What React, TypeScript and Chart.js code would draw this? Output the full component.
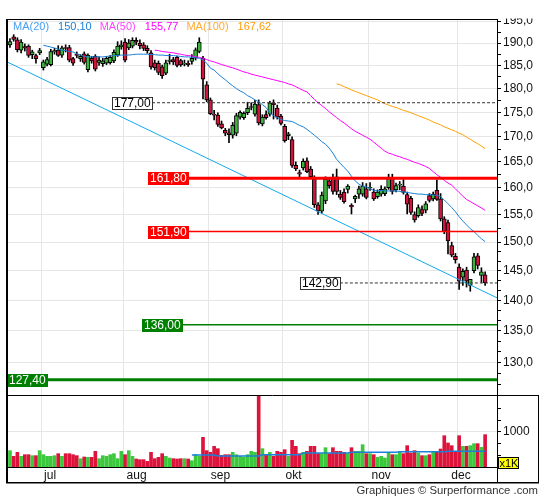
import React, { useEffect, useRef } from 'react';
import { Chart, registerables } from 'chart.js';

Chart.register(...registerables);

// ---------- DATA ----------
const opens = [
  189.6, 191.4, 190.7, 188.4, 189.2, 189.3, 187.4, 187.2, 187.8, 184.5,
  185.3, 185.2, 188.0, 188.4, 187.3, 189.0, 189.0, 186.5, 187.5, 186.5,
  187.6, 184.1, 186.6, 187.0, 185.7, 185.4, 185.5, 185.6, 186.0, 187.3,
  189.1, 190.2, 188.9, 189.3, 190.6, 190.0, 189.6, 188.8, 187.8, 185.6,
  185.5, 184.7, 183.3, 185.9, 186.3, 186.8, 186.1, 185.3, 185.5, 185.9,
  186.6, 188.1, 186.6, 180.8, 177.6, 174.6, 174.4, 172.6, 171.3, 170.8,
  170.3, 170.7, 174.0, 173.9, 174.9, 176.0, 174.6, 176.6, 172.6, 174.5,
  174.6, 176.9, 175.9, 174.2, 172.1, 170.2, 169.4, 164.3, 162.9, 163.8,
  165.2, 163.6, 161.6, 156.8, 155.6, 157.5, 161.3, 161.8, 162.1, 158.8,
  159.2, 159.7, 156.7, 157.9, 158.8, 158.8, 159.8, 159.9, 159.2, 158.3,
  158.8, 158.9, 160.0, 161.9, 159.6, 160.5, 160.3, 158.7, 158.0, 155.0,
  154.8, 155.9, 155.8, 158.5, 157.9, 159.5, 157.9, 154.2, 153.5, 149.4,
  147.5, 145.6, 143.9, 145.1, 142.5, 145.0, 147.6, 144.2, 144.3,
];
const highs = [
  191.0, 191.9, 191.2, 190.8, 189.8, 189.6, 188.4, 187.5, 188.8, 186.2,
  186.8, 188.6, 188.8, 189.4, 189.3, 189.6, 189.5, 186.8, 188.0, 187.4,
  188.0, 187.6, 187.0, 187.4, 186.9, 186.6, 187.0, 187.2, 188.5, 190.3,
  190.5, 191.0, 190.8, 191.2, 191.2, 190.7, 190.1, 189.4, 188.3, 186.2,
  186.0, 185.1, 186.2, 187.5, 186.8, 187.1, 186.4, 186.2, 186.0, 187.4,
  188.9, 191.2, 187.0, 181.5, 178.0, 175.4, 174.9, 173.2, 171.7, 171.6,
  172.9, 174.8, 175.3, 175.1, 177.1, 177.0, 177.5, 177.6, 174.5, 175.3,
  177.3, 177.6, 176.5, 174.6, 172.5, 170.9, 170.0, 165.0, 163.4, 165.6,
  165.8, 164.1, 162.3, 157.2, 159.2, 162.1, 162.0, 162.6, 163.6, 159.5,
  159.8, 160.6, 157.0, 158.6, 160.3, 161.0, 160.8, 161.0, 159.8, 159.6,
  160.4, 160.2, 162.6, 162.6, 160.9, 161.2, 161.6, 159.2, 158.4, 155.5,
  156.8, 156.6, 157.4, 158.9, 159.2, 161.5, 158.9, 154.6, 154.0, 150.0,
  148.0, 146.2, 145.3, 145.6, 143.5, 148.0, 148.0, 145.5, 144.8,
];
const lows = [
  189.0, 190.4, 188.0, 187.8, 188.2, 186.8, 186.5, 185.5, 187.4, 184.0,
  184.9, 184.9, 187.5, 187.0, 186.8, 188.0, 185.8, 185.0, 186.7, 185.9,
  185.3, 183.6, 185.5, 183.8, 185.0, 184.8, 185.2, 185.3, 185.6, 187.0,
  188.6, 185.8, 188.5, 188.9, 189.6, 188.7, 188.3, 187.7, 184.2, 184.0,
  183.0, 182.2, 183.0, 185.3, 185.2, 184.7, 184.8, 184.9, 184.8, 185.3,
  186.2, 187.8, 177.8, 177.2, 174.5, 173.4, 172.1, 171.6, 170.2, 168.8,
  169.7, 170.2, 173.6, 173.5, 174.5, 175.5, 174.2, 172.4, 172.2, 173.6,
  174.2, 173.6, 173.6, 172.4, 168.9, 169.4, 163.9, 163.3, 162.0, 163.4,
  162.9, 161.8, 156.3, 155.0, 155.2, 157.0, 159.9, 158.8, 158.7, 157.8,
  157.1, 159.0, 155.1, 157.2, 158.0, 158.4, 157.9, 159.5, 157.6, 158.0,
  158.4, 158.5, 159.7, 158.8, 159.2, 159.6, 158.8, 155.1, 155.0, 153.6,
  154.5, 154.8, 155.3, 157.3, 157.5, 157.6, 153.8, 151.5, 147.9, 147.4,
  146.3, 141.8, 142.5, 142.2, 141.5, 144.6, 145.3, 143.0, 142.5,
];
const closes = [
  190.3, 190.8, 188.5, 190.2, 188.9, 187.2, 188.0, 186.5, 188.3, 185.8,
  186.3, 188.1, 188.3, 187.2, 188.9, 188.8, 186.2, 185.5, 187.2, 187.0,
  185.7, 187.3, 186.0, 184.2, 186.2, 186.0, 186.6, 186.8, 187.9, 189.3,
  189.6, 186.2, 190.0, 190.6, 190.2, 189.4, 188.8, 188.3, 184.7, 184.5,
  183.5, 182.8, 185.6, 186.2, 185.8, 185.0, 185.1, 185.5, 185.2, 186.6,
  188.5, 190.2, 182.0, 177.6, 174.7, 174.4, 172.5, 171.8, 170.7, 170.4,
  172.3, 174.3, 175.0, 174.8, 175.8, 176.2, 176.7, 172.8, 174.0, 173.9,
  177.0, 176.6, 174.0, 172.7, 169.2, 170.6, 164.3, 163.6, 162.6, 165.1,
  163.1, 162.1, 156.8, 155.6, 158.6, 161.6, 160.4, 159.3, 159.3, 158.2,
  157.4, 160.3, 156.4, 158.4, 159.8, 160.3, 158.2, 160.1, 157.9, 159.2,
  159.7, 159.8, 161.8, 159.3, 160.4, 160.7, 159.1, 156.9, 155.4, 154.0,
  156.3, 155.2, 157.0, 157.6, 158.8, 157.8, 154.2, 151.9, 150.2, 147.7,
  146.9, 143.2, 144.9, 143.2, 143.5, 147.4, 145.9, 144.8, 142.9,
];
// volume in thousands
const volumes = [
  467, 305, 419, 305, 352, 352, 324, 324, 467, 352,
  305, 305, 324, 381, 305, 381, 381, 352, 324, 238,
  286, 276, 276, 448, 238, 324, 305, 352, 381, 238,
  448, 352, 467, 305, 229, 210, 210, 162, 419, 238,
  276, 381, 305, 257, 238, 229, 238, 238, 229, 181,
  352, 305, 848, 467, 419, 590, 524, 333, 352, 352,
  419, 352, 305, 276, 352, 448, 419, 2048, 524, 352,
  419, 305, 448, 419, 495, 305, 762, 590, 381, 419,
  448, 590, 590, 381, 381, 552, 381, 552, 448, 448,
  419, 381, 552, 448, 448, 638, 381, 381, 352, 276,
  305, 257, 400, 352, 352, 419, 381, 610, 400, 467,
  400, 324, 324, 352, 448, 448, 514, 895, 686, 610,
  448, 895, 590, 590, 610, 667, 667, 562, 924,
];
const volMaStart = 49;
const volMa = [
  343, 343, 343, 343, 343, 343, 343,
  314, 314, 314, 314, 314, 314, 314, 314, 314, 314, 314, 314,
  348, 348, 348, 348, 348, 348, 348, 348, 348, 348, 348,
  400, 400, 400, 400, 400, 400, 400, 400, 400, 400, 400, 400, 400,
  419, 419, 419, 419, 419, 419, 419, 419, 419, 419, 419, 419, 419,
  438, 438, 438, 438, 438, 438, 438, 438, 438, 438, 438, 438, 438,
  448, 448, 448, 448, 448, 448, 448, 448, 448, 448, 448,
];
const ma20Start = 9;
const ma20 = [
  189.5, 189.3, 189.1, 188.9, 188.6, 188.4, 188.3, 188.1, 188.0, 187.6,
  187.3, 187.0, 186.9, 186.9, 186.9, 186.9, 186.9, 187.0, 187.1, 187.2,
  187.2, 187.3, 187.3, 187.3, 187.4, 187.5, 187.5, 187.5, 187.5, 187.4,
  187.4, 187.3, 187.3, 187.2, 187.2, 187.2, 187.1, 187.0, 186.9, 186.9,
  186.8, 186.7, 186.6, 186.2, 185.5, 184.4, 184.0, 183.2, 182.5, 181.9,
  181.2, 180.6, 180.0, 179.5, 179.1, 178.5, 178.1, 177.6, 177.2, 176.6,
  176.0, 174.9, 174.3, 173.9, 173.5, 173.3, 173.2, 173.1, 172.7, 172.3,
  172.0, 171.5, 170.9, 170.3, 169.7, 169.0, 168.5, 167.7, 166.7, 165.5,
  164.7, 163.9, 163.2, 162.2, 161.3, 160.7, 160.3, 160.2, 159.8, 159.5,
  159.4, 159.5, 159.4, 159.4, 159.4, 159.4, 159.3, 159.2, 159.1, 159.0,
  158.9, 158.8, 158.8, 158.7, 158.7, 158.6, 158.6, 158.3, 157.7, 157.0,
  156.3, 155.5, 154.6, 153.8, 153.1, 152.4, 151.9, 151.2, 150.6, 150.1,
];
const ma50Start = 39;
const ma50 = [
  188.4, 188.3, 188.1, 188.0, 187.9, 187.8, 187.6, 187.5, 187.3, 187.2,
  187.1, 186.9, 186.8, 186.6, 186.3, 186.0, 185.8, 185.5, 185.2, 185.0,
  184.7, 184.5, 184.2, 183.9, 183.6, 183.4, 183.1, 182.9, 182.7, 182.5,
  182.3, 182.1, 181.9, 181.7, 181.5, 181.3, 181.0, 180.8, 180.4, 180.0,
  179.6, 179.3, 178.5, 177.7, 177.0, 176.4, 175.8, 175.1, 174.5, 173.9,
  173.3, 172.8, 172.2, 171.6, 171.1, 170.7, 170.3, 169.9, 169.5, 168.9,
  168.3, 167.7, 167.1, 166.7, 166.5, 166.2, 166.0, 165.7, 165.5, 165.2,
  164.9, 164.7, 164.4, 164.1, 163.7, 163.1, 162.5, 162.0, 161.4, 160.9,
  160.5, 159.8, 159.1, 158.4, 157.8, 157.4, 157.0, 156.6, 156.2, 155.77,
];
const ma100Start = 88;
const ma100 = [
  181.0, 180.8, 180.4, 180.1, 179.7, 179.4, 179.1, 178.8, 178.5, 178.2,
  177.9, 177.6, 177.2, 176.8, 176.5, 176.2, 176.0, 175.7, 175.4, 175.2,
  174.9, 174.6, 174.3, 174.0, 173.7, 173.4, 173.0, 172.7, 172.4, 172.0,
  171.7, 171.4, 171.1, 170.7, 170.4, 169.9, 169.5, 169.0, 168.6, 168.1,
  167.62,
];
const trendIdx = [-0.8, 131.2];
const trendPrice = [185.8, 140.4];

const levels = [177.0, 161.8, 151.9, 142.9, 136.0, 127.4];
const levelStartIdx = [27.5, 37.2, 37.2, 78.1, 35.6, -0.8];

const monthNames = ['jul', 'aug', 'sep', 'okt', 'nov', 'dec'];
const monthStartIdx = [9, 31, 54, 74, 97, 121];
const monthLabelIdx = [10.8, 34.1, 56.7, 76.4, 100.0, 121.5];

const priceMajorTicks = [130, 135, 140, 145, 150, 155, 160, 165, 170, 175, 180, 185, 190, 195];
const priceMinorTicks = [
  126.67, 128.33, 131.67, 133.33, 136.67, 138.33, 141.67, 143.33, 146.67, 148.33,
  152.5, 157.5, 162.5, 167.5, 172.5, 177.5, 182.5, 187.5, 192.5,
];
const volMajorTicks = [1000];
const volMinorTicks = [333, 667, 1333, 1667];

// ---------- STYLE ----------
const X_MIN = -0.8;
const X_MAX = 131.2;
const P_MIN = 125.1;
const P_MAX = 195.5;
const V_MAX = 2057;
const FONT_FAMILY = "'Liberation Sans', Arial, sans-serif";
const FONT = `11px ${FONT_FAMILY}`;
const AXIS_FONT_SIZE = 12;
const GRID = '#e6e6e6';
const CANDLE_UP = '#3cb43c';
const CANDLE_DOWN = '#d2143c';
const VOL_UP = '#3cc83c';
const VOL_DOWN = '#dc143c';
const MA20_COLOR = '#1a80d8';
const MA50_COLOR = '#ff00ff';
const MA100_COLOR = '#ffa000';
const TREND_COLOR = '#12aaee';

const levelStyles = [
  { line: '#333333', width: 1, dash: [3, 2], fill: '#ffffff', stroke: '#333333', text: '#000000' },
  { line: '#ff0000', width: 3, dash: [], fill: '#ff0000', stroke: null, text: '#ffffff' },
  { line: '#ff0000', width: 1.5, dash: [], fill: '#ff0000', stroke: null, text: '#ffffff' },
  { line: '#333333', width: 1, dash: [3, 2], fill: '#ffffff', stroke: '#333333', text: '#000000' },
  { line: '#008000', width: 1.5, dash: [], fill: '#008000', stroke: null, text: '#ffffff' },
  { line: '#008000', width: 3, dash: [], fill: '#008000', stroke: null, text: '#ffffff' },
];

const fmt = (v: number, d: number) => v.toFixed(d).replace('.', ',');

const overlayPlugin = {
  id: 'overlay',
  afterDatasetsDraw(chart: any) {
    const { ctx, scales } = chart;
    const xs = scales.x;
    const ys = scales.y;
    ctx.save();
    ctx.font = `12px ${FONT_FAMILY}`;
    ctx.textBaseline = 'middle';
    ctx.textAlign = 'left';
    levels.forEach((lv, k) => {
      const st = levelStyles[k];
      const x0 = Math.round(xs.getPixelForValue(levelStartIdx[k]));
      const y = Math.round(ys.getPixelForValue(lv));
      const txt = fmt(lv, 2);
      const w = Math.ceil(ctx.measureText(txt).width) + 4;
      const h = 13;
      ctx.fillStyle = st.fill;
      ctx.fillRect(x0, y - 6, w, h);
      if (st.stroke) {
        ctx.strokeStyle = st.stroke;
        ctx.lineWidth = 1;
        ctx.setLineDash([]);
        ctx.strokeRect(x0 + 0.5, y - 5.5, w - 1, h - 1);
      }
      ctx.fillStyle = st.text;
      ctx.fillText(txt, x0 + 2, y + 1);
    });
    ctx.restore();
  },
  afterDraw(chart: any) {
    const { ctx, chartArea: ca, scales, width } = chart;
    const ys = scales.y;
    const sep = Math.round(ys.bottom);
    const right = Math.round(ca.right);
    const left = Math.round(ca.left);
    const top = Math.round(ca.top);
    const bottom = Math.round(ca.bottom);
    const frameRight = width - 7;
    const frameBottom = bottom + 15;
    ctx.save();
    // mask above plot on the axis side
    ctx.fillStyle = '#ffffff';
    ctx.fillRect(right + 1, 0, width - right, top - 0.5);
    ctx.strokeStyle = '#000000';
    ctx.lineWidth = 1;
    ctx.setLineDash([]);
    ctx.beginPath();
    ctx.moveTo(left, top + 0.5); ctx.lineTo(right + 1, top + 0.5);
    ctx.moveTo(left, sep + 0.5); ctx.lineTo(frameRight, sep + 0.5);
    ctx.moveTo(right + 0.5, bottom); ctx.lineTo(right + 0.5, frameBottom);
    ctx.moveTo(frameRight + 0.5, sep); ctx.lineTo(frameRight + 0.5, frameBottom + 1);
    ctx.stroke();
    ctx.fillStyle = '#000000';
    ctx.fillRect(left - 1, top, 2, frameBottom - top + 1);
    ctx.fillRect(left - 1, frameBottom, frameRight - left + 2, 1.5);

    // legend
    ctx.font = FONT;
    ctx.textBaseline = 'middle';
    ctx.textAlign = 'left';
    const legendItems = [
      { t: 'MA(20)', c: '#4aa0f0' },
      { t: fmt(ma20[ma20.length - 1], 2), c: MA20_COLOR },
      { t: 'MA(50)', c: '#ff44ff' },
      { t: fmt(ma50[ma50.length - 1], 2), c: MA50_COLOR },
      { t: 'MA(100)', c: '#ffaa33' },
      { t: fmt(ma100[ma100.length - 1], 2), c: '#ff9900' },
    ];
    let lx = left + 6;
    const ly = top + 8;
    legendItems.forEach((it, k) => {
      ctx.fillStyle = it.c;
      ctx.fillText(it.t, lx, ly);
      lx += ctx.measureText(it.t).width + (k % 2 === 0 ? 9 : 8);
    });

    // x1K box
    const bx = right + 1;
    const by = bottom - 10;
    ctx.fillStyle = '#ffff00';
    ctx.fillRect(bx, by, 21, 12);
    ctx.strokeStyle = '#000000';
    ctx.strokeRect(bx + 0.5, by + 0.5, 20, 11);
    ctx.fillStyle = '#000000';
    ctx.fillText('x1K', bx + 1.5, by + 6.5);

    // footer
    ctx.font = `11.3px ${FONT_FAMILY}`;
    ctx.fillStyle = '#333333';
    ctx.textAlign = 'right';
    ctx.fillText('Graphiques \u00a9 Surperformance .com', frameRight, frameBottom + 9);
    ctx.restore();
  },
};

export default function App() {
  const ref = useRef<HTMLCanvasElement | null>(null);

  useEffect(() => {
    document.body.style.margin = '0';
    const canvas = ref.current;
    if (!canvas) return;
    const n = closes.length;
    const idx = Array.from({ length: n }, (_, i) => i);
    const up = idx.map((i) => closes[i] >= opens[i]);

    const gridSet = monthStartIdx.map((s) => s - 0.5);
    const xTicks = [...gridSet, ...monthLabelIdx];

    const levelSets = levels.map((lv, k) => ({
      type: 'line' as const,
      data: [
        { x: levelStartIdx[k], y: lv },
        { x: X_MAX, y: lv },
      ],
      borderColor: levelStyles[k].line,
      borderWidth: levelStyles[k].width,
      borderDash: levelStyles[k].dash,
      pointRadius: 0,
      yAxisID: 'y',
      order: 0,
    }));

    const chart = new Chart(canvas, {
      type: 'bar',
      data: {
        datasets: [
          ...levelSets,
          {
            type: 'line',
            data: ma20.map((v, k) => ({ x: ma20Start + k, y: v })),
            borderColor: MA20_COLOR, borderWidth: 1, pointRadius: 0, yAxisID: 'y', order: 0,
          },
          {
            type: 'line',
            data: ma50.map((v, k) => ({ x: ma50Start + k, y: v })),
            borderColor: MA50_COLOR, borderWidth: 1, pointRadius: 0, yAxisID: 'y', order: 0,
          },
          {
            type: 'line',
            data: ma100.map((v, k) => ({ x: ma100Start + k, y: v })),
            borderColor: MA100_COLOR, borderWidth: 1, pointRadius: 0, yAxisID: 'y', order: 0,
          },
          {
            type: 'line',
            data: trendIdx.map((x, k) => ({ x, y: trendPrice[k] })),
            borderColor: TREND_COLOR, borderWidth: 1, pointRadius: 0, yAxisID: 'y', order: 0,
          },
          {
            type: 'bar',
            data: idx.map((i) => ({ x: i, y: [opens[i], closes[i]] })),
            backgroundColor: up.map((u) => (u ? CANDLE_UP : CANDLE_DOWN)),
            borderColor: '#000000', borderWidth: 1, borderSkipped: false,
            barThickness: 4, grouped: false, yAxisID: 'y', order: 1,
          },
          {
            type: 'bar',
            data: idx.map((i) => ({ x: i, y: [lows[i], highs[i]] })),
            backgroundColor: '#000000', barThickness: 1, grouped: false, yAxisID: 'y', order: 2,
          },
          {
            type: 'bar',
            data: volumes.map((v, i) => ({ x: i, y: v })),
            backgroundColor: up.map((u) => (u ? VOL_UP : VOL_DOWN)),
            barThickness: 3, grouped: false, yAxisID: 'yv', order: 3,
          },
          {
            type: 'line',
            data: volMa.map((v, k) => ({ x: volMaStart + k, y: v })),
            borderColor: MA20_COLOR, borderWidth: 1.5, pointRadius: 0, yAxisID: 'yv', order: 0,
          },
        ] as any,
      },
      options: {
        animation: false,
        responsive: false,
        events: [],
        layout: { padding: { left: 7, top: 19, right: 0, bottom: 18 } },
        plugins: { legend: { display: false }, tooltip: { enabled: false } },
        scales: {
          x: {
            type: 'linear',
            min: X_MIN,
            max: X_MAX,
            offset: false,
            afterBuildTicks: (s: any) => { s.ticks = xTicks.map((v) => ({ value: v })); },
            afterFit: (s: any) => { s.height = 15; },
            grid: {
              offset: false,
              drawTicks: false,
              color: (c: any) => (c.tick && gridSet.includes(c.tick.value) ? GRID : 'rgba(0,0,0,0)'),
            },
            border: { display: true, color: '#000000' },
            ticks: {
              autoSkip: false,
              maxRotation: 0,
              padding: 1,
              color: '#111111',
              font: { family: FONT_FAMILY, size: AXIS_FONT_SIZE },
              callback: (v: any) => {
                const k = monthLabelIdx.indexOf(Number(v));
                return k >= 0 ? monthNames[k] : '';
              },
            },
          },
          y: {
            type: 'logarithmic',
            position: 'right',
            stack: 'main',
            stackWeight: 376,
            min: P_MIN,
            max: P_MAX,
            afterBuildTicks: (s: any) => {
              s.ticks = [...priceMajorTicks, ...priceMinorTicks].sort((a, b) => a - b).map((v) => ({ value: v }));
            },
            afterFit: (s: any) => { s.width = 48; },
            grid: {
              color: (c: any) => (c.tick && priceMajorTicks.includes(c.tick.value) ? GRID : 'rgba(0,0,0,0)'),
              tickColor: '#000000',
              tickLength: 4,
            },
            border: { display: true, color: '#000000' },
            ticks: {
              autoSkip: false,
              padding: 2,
              color: '#111111',
              font: { family: FONT_FAMILY, size: AXIS_FONT_SIZE },
              callback: (v: any) => (priceMajorTicks.includes(Number(v)) ? fmt(Number(v), 1) : ''),
            },
          },
          yv: {
            type: 'linear',
            position: 'right',
            stack: 'main',
            stackWeight: 72,
            min: 0,
            max: V_MAX,
            afterBuildTicks: (s: any) => {
              s.ticks = [...volMinorTicks, ...volMajorTicks].sort((a, b) => a - b).map((v) => ({ value: v }));
            },
            afterFit: (s: any) => { s.width = 48; },
            grid: {
              color: (c: any) => (c.tick && volMajorTicks.includes(c.tick.value) ? GRID : 'rgba(0,0,0,0)'),
              tickColor: '#000000',
              tickLength: 4,
            },
            border: { display: true, color: '#000000' },
            ticks: {
              autoSkip: false,
              padding: 2,
              color: '#111111',
              font: { family: FONT_FAMILY, size: AXIS_FONT_SIZE },
              callback: (v: any) => (volMajorTicks.includes(Number(v)) ? String(v) : ''),
            },
          },
        },
      } as any,
      plugins: [overlayPlugin],
    });
    return () => chart.destroy();
  }, []);

  return <canvas ref={ref} width={545} height={500} style={{ display: 'block', width: 545, height: 500 }} />;
}
